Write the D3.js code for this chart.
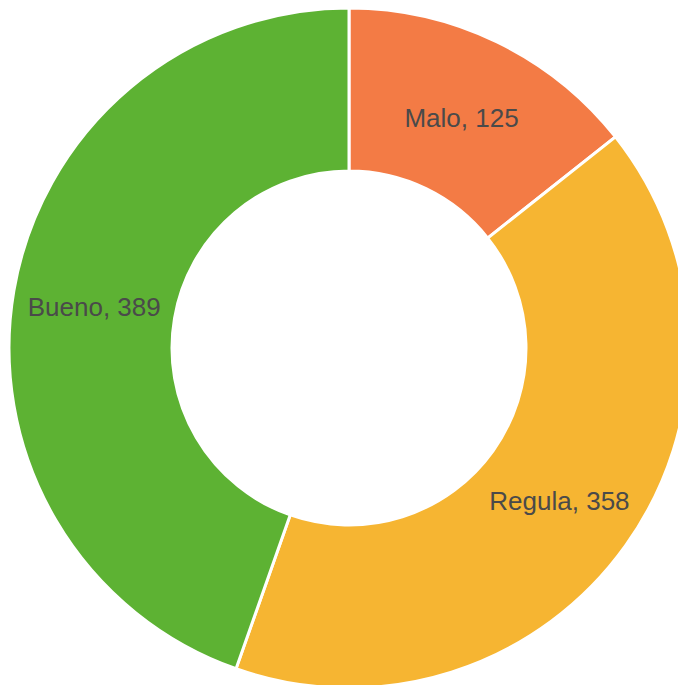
<!DOCTYPE html>
<meta charset="utf-8">
<script src="https://d3js.org/d3.v7.min.js"></script>
<style>
  body { margin: 0; background: #fff; }
</style>
<div id="my_dataviz"></div>
<script>
    // data
    var categories = ["Malo", "Regula", "Bueno"];
    var values = [125, 358, 389];
    var colors = ["#F37B45", "#F6B532", "#5DB233"];

    var width = 678, height = 685;
    var cx = 349, cy = 348;
    var outerR = 340, innerR = 177;

    var svg = d3.select("#my_dataviz")
        .append("svg")
        .attr("width", width)
        .attr("height", height)
        .append("g")
        .attr("transform", "translate(" + cx + "," + cy + ")");

    var data = categories.map(function (c, i) { return { name: c, value: values[i], color: colors[i] }; });

    var pie = d3.pie()
        .sort(null)
        .value(function (d) { return d.value; });

    var arc = d3.arc()
        .innerRadius(innerR)
        .outerRadius(outerR);

    var slices = svg.selectAll("g.slice")
        .data(pie(data))
        .enter()
        .append("g")
        .attr("class", "slice");

    slices.append("path")
        .attr("d", arc)
        .attr("fill", function (d) { return d.data.color; })
        .attr("stroke", "#fff")
        .attr("stroke-width", 3);

    // labels at the middle of each ring segment
    slices.append("text")
        .attr("transform", function (d) { return "translate(" + arc.centroid(d) + ")"; })
        .attr("text-anchor", "middle")
        .attr("dy", "0.45em")
        .style("font-family", "'Liberation Sans', Arial, sans-serif")
        .style("font-size", "26px")
        .style("fill", "#4a4a4a")
        .text(function (d) { return d.data.name + ", " + d.data.value; });
</script>
